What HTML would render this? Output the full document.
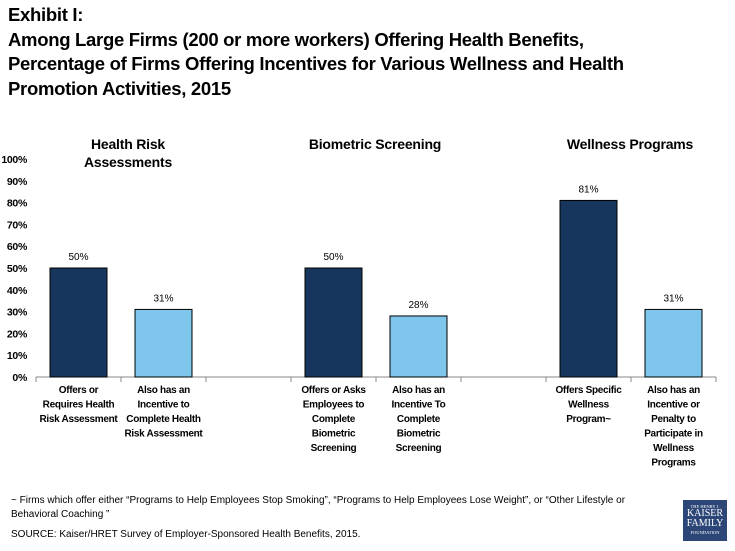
<!DOCTYPE html>
<html><head><meta charset="utf-8"><style>
body{margin:0;width:735px;height:551px;background:#fff;font-family:"Liberation Sans",sans-serif;position:relative;overflow:hidden}
.t{position:absolute;left:8px;top:3px;font-size:18.5px;font-weight:bold;line-height:24.5px;color:#000;letter-spacing:-0.3px}
.gt{position:absolute;font-size:14px;font-weight:bold;text-align:center;line-height:18px;letter-spacing:-0.2px}
.note{position:absolute;left:11px;font-size:10px;color:#000;line-height:14px}
.logo{position:absolute;left:683px;top:500px;width:44px;height:41px;background:#2c4777;color:#fff;font-family:"Liberation Serif",serif;text-align:center}
</style></head><body>
<div class="t">Exhibit I:<br>Among Large Firms (200 or more workers) Offering Health Benefits,<br>Percentage of Firms Offering Incentives for Various Wellness and Health<br>Promotion Activities, 2015</div>
<div class="gt" style="left:58px;top:135px;width:140px">Health Risk<br>Assessments</div>
<div class="gt" style="left:290px;top:135px;width:170px">Biometric Screening</div>
<div class="gt" style="left:545px;top:135px;width:170px">Wellness Programs</div>
<svg id="c" width="735" height="551" style="position:absolute;left:0;top:0"></svg>
<div class="note" style="top:494px">~ Firms which offer either “Programs to Help Employees Stop Smoking”, “Programs to Help Employees Lose Weight”, or “Other Lifestyle  or<br>Behavioral Coaching ”</div>
<div class="note" style="top:528px">SOURCE: Kaiser/HRET Survey of Employer-Sponsored Health Benefits, 2015.</div>
<div class="logo"><div style="font-size:4.5px;margin-top:4px">THE HENRY J.</div><div style="font-size:10px;line-height:10px">KAISER</div><div style="font-size:10px;line-height:10px">FAMILY</div><div style="font-size:4.5px;margin-top:1px">FOUNDATION</div></div>
<script>
const categories=[["Offers or","Requires Health","Risk Assessment"],["Also has an","Incentive to","Complete Health","Risk Assessment"],null,["Offers or Asks","Employees to","Complete","Biometric","Screening"],["Also has an","Incentive To","Complete","Biometric","Screening"],null,["Offers Specific","Wellness","Program~"],["Also has an","Incentive or","Penalty to","Participate in","Wellness","Programs"]];
const values=[50,31,null,50,28,null,81,31];
const colors=["#17365d","#7ec6ec",null,"#17365d","#7ec6ec",null,"#17365d","#7ec6ec"];
const ticks=[0,10,20,30,40,50,60,70,80,90,100];
const NS="http://www.w3.org/2000/svg",svg=document.getElementById('c');
const x0=36,slot=85,y0=377,y100=159;
const y=v=>y0-(v/100)*(y0-y100);
const xc=i=>x0+slot*(i+0.5);
function mk(t,a,txt){const e=document.createElementNS(NS,t);for(const k in a)e.setAttribute(k,a[k]);if(txt!=null)e.textContent=txt;svg.appendChild(e);return e;}
ticks.forEach(t=>{
const e=mk('text',{x:27,y:y(t)+4,'text-anchor':'end','font-size':'10.5','font-weight':'bold','letter-spacing':'-0.3','font-family':'Liberation Sans'},t+'%');


});
const ax=mk('line',{x1:x0,y1:y0,x2:x0+slot*categories.length,y2:y0,stroke:'#888'});


for(let i=0;i<=categories.length;i++){const tk=mk('line',{x1:x0+slot*i,y1:y0,x2:x0+slot*i,y2:y0+5,stroke:'#888'});

}
values.forEach((v,i)=>{
if(v==null)return;
const w=57,b=mk('rect',{x:xc(i)-w/2,y:y(v),width:w,height:y0-y(v),fill:colors[i],stroke:'#000','stroke-width':1});


const l=mk('text',{x:xc(i),y:y(v)-8,'text-anchor':'middle','font-size':'10','font-family':'Liberation Sans'},v+'%');


});
categories.forEach((c,i)=>{
if(!c)return;
c.forEach((s,k)=>{const e=mk('text',{x:xc(i),y:393+k*14.5,'text-anchor':'middle','font-size':'10','font-weight':'bold','letter-spacing':'-0.3','font-family':'Liberation Sans'},s);

});
});
</script>
</body></html>
